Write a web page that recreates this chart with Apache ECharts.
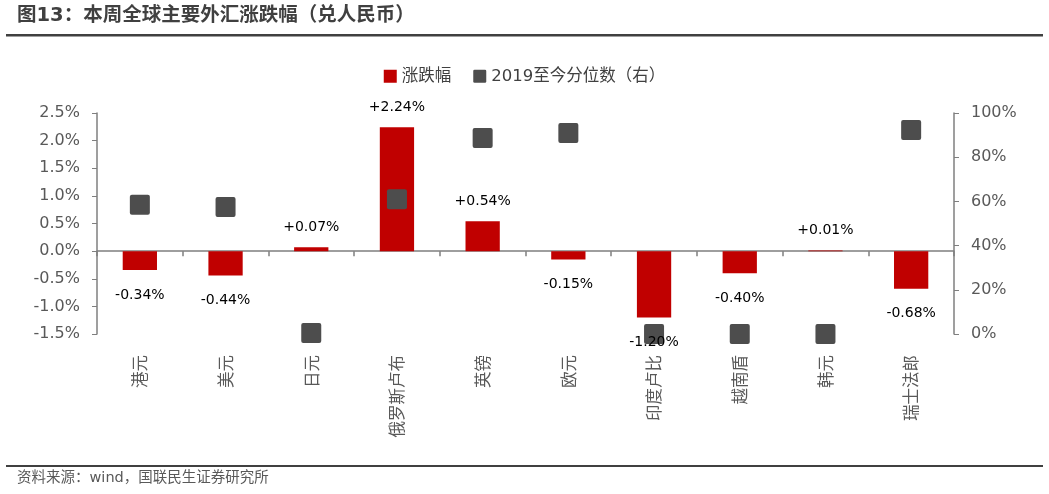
<!DOCTYPE html>
<html>
<head>
<meta charset="utf-8">
<script src="https://cdn.jsdelivr.net/npm/echarts@6/dist/echarts.min.js"></script>
<style>
html,body{margin:0;padding:0;background:#fff;}
#chart{width:1049px;height:494px;}
</style>
</head>
<body>
<div id="chart"></div>
<script>
var categories = ['港元','美元','日元','俄罗斯卢布','英镑','欧元','印度卢比','越南盾','韩元','瑞士法郎'];
var changePct = [-0.34,-0.44,0.07,2.24,0.54,-0.15,-1.20,-0.40,0.01,-0.68];
var percentile2019 = [58.5,57.5,0.5,61,88.7,91,0,0,0,92.3];
var leftTicks = {min:-1.5,max:2.5,interval:0.5};
var rightTicks = {min:0,max:100,interval:20};

var FONT = '"DejaVu Sans","Noto Sans CJK SC",sans-serif';
var CJK = '"Noto Sans CJK SC",sans-serif';
var RED = '#c00000';
var GRAY = '#4d4d4d';
var SQUARE = 'path://M2,0H18Q20,0 20,2V18Q20,20 18,20H2Q0,20 0,18V2Q0,0 2,0Z';

var labelData = changePct.map(function(v){
  return {
    value: v,
    label: {position: v >= 0 ? 'top' : 'bottom', distance: v >= 0 ? 13 : 18}
  };
});

var chart = echarts.init(document.getElementById('chart'));
chart.setOption({
  animation:false,
  textStyle:{fontFamily:FONT},
  graphic:[
    {type:'text',left:17,top:6,style:{text:'图13：本周全球主要外汇涨跌幅（兑人民币）',font:'bold 19.5px '+FONT,fill:'#404040'}},
    {type:'rect',shape:{x:6,y:34,width:1037,height:2.5},style:{fill:'#404040'}},
    {type:'rect',shape:{x:6,y:465,width:1037,height:2},style:{fill:'#404040'}},
    {type:'text',left:17,top:471,style:{text:'资料来源：wind，国联民生证券研究所',font:'14.5px '+FONT,fill:'#595959'}}
  ],
  legend:{
    top:63,left:'center',itemGap:22,itemWidth:13,itemHeight:13,
    textStyle:{fontSize:16.5,color:'#404040',fontFamily:FONT},
    data:[{name:'涨跌幅',icon:'rect'},{name:'2019至今分位数（右）',icon:SQUARE}]
  },
  grid:{left:97,right:95,top:113,bottom:160,containLabel:false,outerBoundsMode:'none'},
  xAxis:{type:'category',data:categories,position:'bottom',
     axisLine:{show:true,onZero:true,onZeroAxisIndex:0,lineStyle:{color:'#7f7f7f',width:1.5}},
     axisTick:{show:true,length:5,lineStyle:{color:'#7f7f7f',width:1.5}},
     axisLabel:{rotate:90,margin:21,fontSize:16.5,color:'#595959',fontFamily:CJK}},
  yAxis:[
    {type:'value',min:leftTicks.min,max:leftTicks.max,interval:leftTicks.interval,
     axisLine:{show:true,lineStyle:{color:'#7f7f7f',width:1.5}},
     axisTick:{show:true,length:5,lineStyle:{color:'#7f7f7f'}},
     splitLine:{show:false},
     axisLabel:{fontSize:16,color:'#595959',margin:17,formatter:function(v){return v.toFixed(1)+'%';}}},
    {type:'value',min:rightTicks.min,max:rightTicks.max,interval:rightTicks.interval,position:'right',
     axisLine:{show:true,lineStyle:{color:'#7f7f7f',width:1.5}},
     axisTick:{show:true,length:5,lineStyle:{color:'#7f7f7f'}},
     splitLine:{show:false},
     axisLabel:{fontSize:16,color:'#595959',margin:17,formatter:function(v){return v+'%';}}}
  ],
  series:[
    {name:'涨跌幅',type:'bar',yAxisIndex:0,barWidth:'40%',z:2,
     itemStyle:{color:RED},
     data:changePct},
    {name:'2019至今分位数（右）',type:'scatter',yAxisIndex:1,z:3,
     symbol:SQUARE,symbolSize:20,
     itemStyle:{color:GRAY,opacity:1},
     data:percentile2019},
    {name:'labels',type:'bar',yAxisIndex:0,barWidth:'40%',barGap:'-100%',z:4,silent:true,
     itemStyle:{color:'rgba(0,0,0,0)'},
     label:{show:true,fontSize:14,color:'#000',fontFamily:FONT,
       formatter:function(p){var v=p.value;return (v>=0?'+':'')+v.toFixed(2)+'%';}},
     data:labelData}
  ]
});
</script>
</body>
</html>
